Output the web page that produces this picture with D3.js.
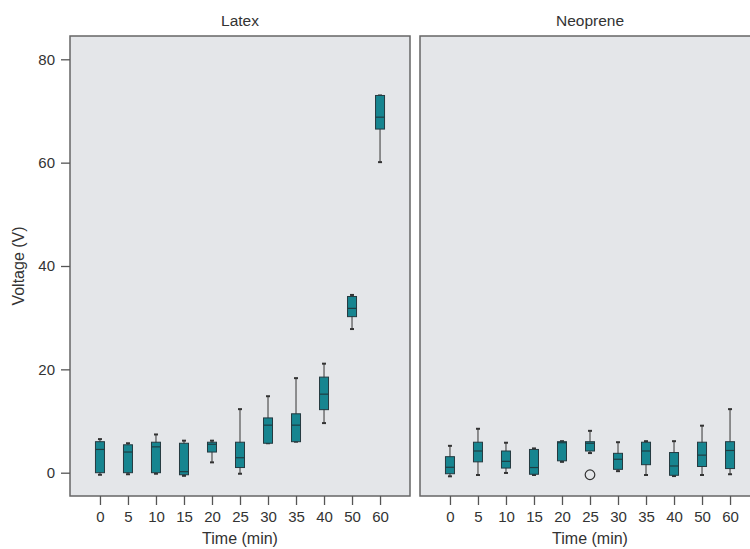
<!DOCTYPE html>
<html>
<head>
    <meta charset="utf-8">
    <title>Voltage boxplots</title>
    <style>
        body { margin: 0; background: #fff; }
        text { font-family: "Liberation Sans", Arial, sans-serif; fill: #333; }
    </style>
</head>
<body>
    <script src="https://cdnjs.cloudflare.com/ajax/libs/d3/7.9.0/d3.min.js"></script>
    <script>

        const times = ["0", "5", "10", "15", "20", "25", "30", "35", "40", "50", "60"];
        const panels = ["Latex", "Neoprene"];
        const yTicks = [0, 20, 40, 60, 80];

        // [low whisker, q1, median, q3, high whisker] per time point
        const latexStats = [
            [-0.4, 0, 4.5, 6.0, 6.5],
            [-0.3, 0, 4.0, 5.4, 5.7],
            [-0.2, 0, 5.0, 5.9, 7.4],
            [-0.6, -0.4, 0.2, 5.7, 6.2],
            [2.0, 4.0, 5.5, 5.9, 6.2],
            [-0.2, 1.0, 2.9, 5.9, 12.3],
            [5.7, 5.7, 9.2, 10.6, 14.8],
            [6.0, 6.0, 9.2, 11.4, 18.3],
            [9.6, 12.2, 15.2, 18.5, 21.1],
            [27.8, 30.2, 31.8, 34.1, 34.4],
            [60.1, 66.5, 68.8, 73.0, 73.0]
        ];
        const neopreneStats = [
            [-0.7, -0.2, 1.05, 3.1, 5.2],
            [-0.45, 2.1, 4.2, 5.9, 8.5],
            [-0.05, 0.9, 2.2, 4.2, 5.8],
            [-0.45, -0.3, 1.0, 4.5, 4.7],
            [2.1, 2.3, 5.8, 6.0, 6.1],
            [3.8, 4.2, 5.7, 6.0, 8.1],
            [0.3, 0.65, 2.6, 3.75, 5.9],
            [-0.45, 1.55, 4.2, 5.9, 6.1],
            [-0.65, -0.5, 1.3, 3.9, 6.1],
            [-0.45, 1.2, 3.4, 5.9, 9.1],
            [-0.3, 0.8, 4.3, 6.0, 12.3]
        ];
        // outliers: [panel, time, value]
        const outliers = [["Neoprene", "25", -0.4]];

        const width = 750;
        const height = 549;
        const panelW = 340;
        const panelLeft = {Latex: 70, Neoprene: 420};
        const panelTop = 36, panelBottom = 496;

        const svg = d3.select("body")
            .append("svg")
            .attr("width", width)
            .attr("height", height);

        const y = d3.scaleLinear()
            .domain([0, 80])
            .range([472.7, 59.3]);

        const boxW = 9;
        const capW = 4;
        const statsByPanel = {Latex: latexStats, Neoprene: neopreneStats};

        panels.forEach(function (p) {
            const x0 = panelLeft[p];
            const x = d3.scalePoint()
                .domain(times)
                .range([x0, x0 + panelW])
                .padding(1.07);

            svg.append("rect")
                .attr("x", x0)
                .attr("y", panelTop)
                .attr("width", panelW)
                .attr("height", panelBottom - panelTop)
                .attr("fill", "#e4e6e9")
                .attr("stroke", "#666")
                .attr("stroke-width", 1.5);

            // title
            svg.append("text")
                .attr("x", x0 + panelW / 2)
                .attr("y", 26)
                .attr("text-anchor", "middle")
                .attr("font-size", "15.5px")
                .text(p);

            // x axis
            const ax = svg.append("g")
                .attr("transform", `translate(0,${panelBottom})`)
                .call(d3.axisBottom(x).tickSize(9).tickPadding(6));
            ax.select(".domain").remove();
            ax.selectAll("line").attr("stroke", "#555").attr("stroke-width", 1.3);
            ax.selectAll("text").attr("font-size", "15px").attr("fill", "#333")
                .attr("font-family", "Liberation Sans, Arial, sans-serif");

            svg.append("text")
                .attr("x", x0 + panelW / 2)
                .attr("y", 544)
                .attr("text-anchor", "middle")
                .attr("font-size", "16px")
                .text("Time (min)");

            const data = statsByPanel[p].map((s, i) => ({t: times[i], s: s}));

            const g = svg.append("g");
            const box = g.selectAll(".box")
                .data(data)
                .enter()
                .append("g")
                .attr("class", "box");

            // whiskers
            box.append("line")
                .attr("x1", d => x(d.t))
                .attr("x2", d => x(d.t))
                .attr("y1", d => y(d.s[0]))
                .attr("y2", d => y(d.s[4]))
                .attr("stroke", "#444")
                .attr("stroke-width", 1.1);
            [0, 4].forEach(function (k) {
                box.append("line")
                    .attr("x1", d => x(d.t) - capW / 2)
                    .attr("x2", d => x(d.t) + capW / 2)
                    .attr("y1", d => y(d.s[k]))
                    .attr("y2", d => y(d.s[k]))
                    .attr("stroke", "#333")
                    .attr("stroke-width", 2);
            });

            box.append("rect")
                .attr("x", d => x(d.t) - boxW / 2)
                .attr("width", boxW)
                .attr("y", d => y(d.s[3]))
                .attr("height", d => Math.max(1, y(d.s[1]) - y(d.s[3])))
                .attr("fill", "#178590")
                .attr("stroke", "#253a40")
                .attr("stroke-width", 1);

            box.append("line")
                .attr("x1", d => x(d.t) - boxW / 2)
                .attr("x2", d => x(d.t) + boxW / 2)
                .attr("y1", d => y(d.s[2]))
                .attr("y2", d => y(d.s[2]))
                .attr("stroke", "#1f3d42")
                .attr("stroke-width", 1.2);

            g.selectAll(".outlier")
                .data(outliers.filter(o => o[0] === p))
                .enter()
                .append("circle")
                .attr("cx", d => x(d[1]))
                .attr("cy", d => y(d[2]))
                .attr("r", 4.8)
                .attr("fill", "none")
                .attr("stroke", "#333")
                .attr("stroke-width", 1.2);
        });

        // y axis
        const ay = svg.append("g")
            .attr("transform", `translate(${panelLeft.Latex},0)`)
            .call(d3.axisLeft(y).tickValues(yTicks).tickSize(9).tickPadding(6));
        ay.select(".domain").remove();
        ay.selectAll("line").attr("stroke", "#555").attr("stroke-width", 1.3);
        ay.selectAll("text").attr("font-size", "15px").attr("fill", "#333")
            .attr("font-family", "Liberation Sans, Arial, sans-serif");

        svg.append("g")
            .attr("transform", `translate(24,${(panelTop + panelBottom) / 2})`)
            .append("text")
            .attr("transform", "rotate(-90)")
            .attr("text-anchor", "middle")
            .attr("font-size", "16px")
            .text("Voltage (V)");

    </script>
</body>
</html>
